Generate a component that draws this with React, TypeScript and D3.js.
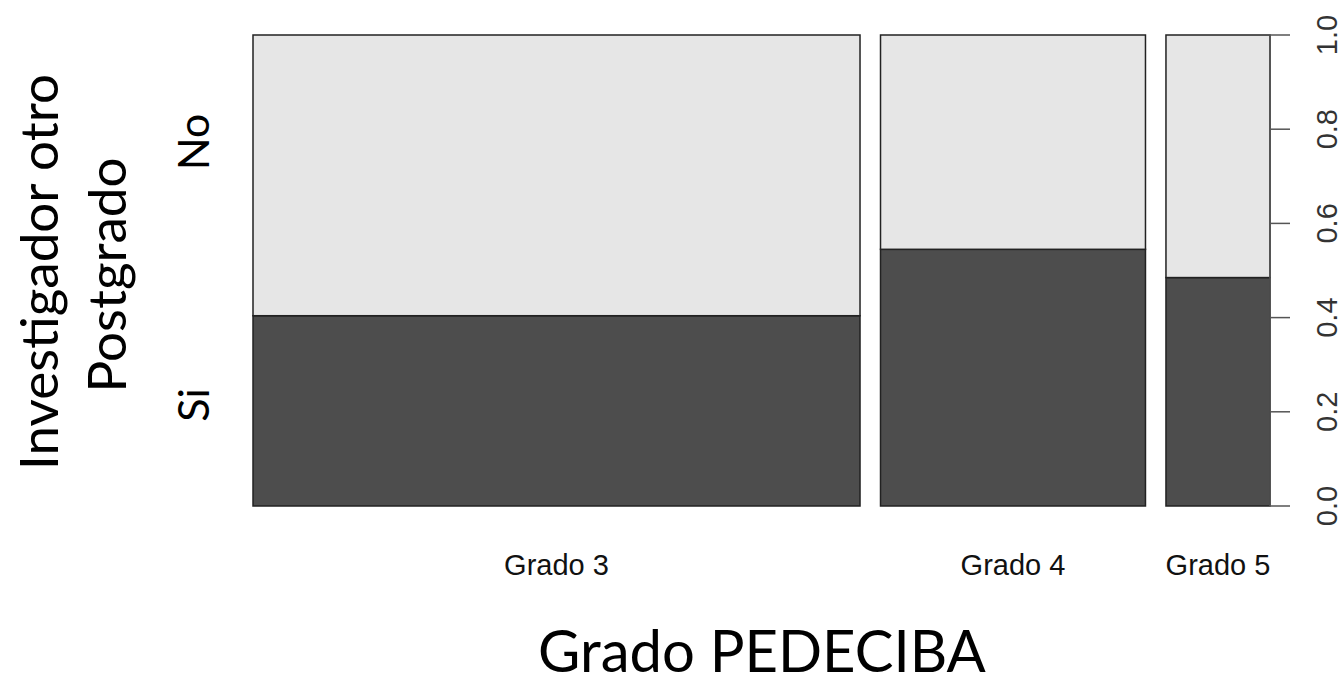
import React from "react";
import * as d3 from "d3";

const categories = ["Grado 3", "Grado 4", "Grado 5"];
const widthShares = [0.622, 0.2715, 0.1066]; // share of observations per category
const siShares = [0.404, 0.545, 0.485]; // proportion "Si" in each category
const yTicks = [0, 0.2, 0.4, 0.6, 0.8, 1.0];
const yLevels = ["Si", "No"];
const yLevelPos = [405, 142]; // label centres placed as in the reference

const W = 1344;
const H = 689;
const left = 253;
const right = 1270;
const top = 35;
const bottom = 506;
const gap = 0.021;

export default function App() {
  const total = d3.sum(widthShares);
  const x = d3
    .scaleLinear()
    .domain([0, total + gap * (categories.length - 1)])
    .range([left, right]);
  const y = d3.scaleLinear().domain([0, 1]).range([bottom, top]);

  let cum = 0;
  const bars = categories.map((c, i) => {
    const x0 = cum + i * gap;
    cum += widthShares[i];
    return { c, x0, x1: x0 + widthShares[i], si: siShares[i] };
  });

  const axisFont = "'Liberation Sans', Arial, Helvetica, sans-serif";
  const labelFont = "Lato, 'Open Sans', sans-serif";

  return (
    <div style={{ position: "absolute", left: 0, top: 0 }}>
      <svg width={W} height={H} style={{ display: "block", background: "#fff" }}>
        {bars.map((b) => (
          <g key={b.c}>
            <rect
              x={x(b.x0)}
              y={y(b.si)}
              width={x(b.x1) - x(b.x0)}
              height={y(0) - y(b.si)}
              fill="#4d4d4d"
              stroke="#222"
              strokeWidth={1.5}
            />
            <rect
              x={x(b.x0)}
              y={y(1)}
              width={x(b.x1) - x(b.x0)}
              height={y(b.si) - y(1)}
              fill="#e6e6e6"
              stroke="#222"
              strokeWidth={1.5}
            />
            <text
              x={(x(b.x0) + x(b.x1)) / 2}
              y={575}
              textAnchor="middle"
              fontFamily={axisFont}
              fontSize={29}
              fill="#111"
            >
              {b.c}
            </text>
          </g>
        ))}
        {/* right axis */}
        <line x1={right} x2={right} y1={y(0)} y2={y(1)} stroke="#555" strokeWidth={1.5} />
        {yTicks.map((t) => (
          <g key={t}>
            <line x1={right} x2={right + 20} y1={y(t)} y2={y(t)} stroke="#555" strokeWidth={1.5} />
            <text
              transform={`translate(${1327},${y(t)}) rotate(-90)`}
              textAnchor="middle"
              dominantBaseline="central"
              fontFamily={axisFont}
              fontSize={29}
              fill="#333"
            >
              {t.toFixed(1)}
            </text>
          </g>
        ))}
        {/* category labels on left */}
        {yLevels.map((lv, i) => (
          <text
            key={lv}
            transform={`translate(${192},${yLevelPos[i]}) rotate(-90)`}
            textAnchor="middle"
            dominantBaseline="central"
            fontFamily={labelFont}
            fontSize={43}
            fill="#000"
          >
            {lv}
          </text>
        ))}
        <text
          transform={`translate(${37},${272}) rotate(-90)`}
          textAnchor="middle"
          dominantBaseline="central"
          fontFamily={labelFont}
          fontSize={53}
          fill="#000"
        >
          Investigador otro
        </text>
        <text
          transform={`translate(${105},${275}) rotate(-90)`}
          textAnchor="middle"
          dominantBaseline="central"
          fontFamily={labelFont}
          fontSize={53}
          fill="#000"
        >
          Postgrado
        </text>
        <text
          x={762}
          y={672}
          textAnchor="middle"
          fontFamily={labelFont}
          fontSize={58}
          fill="#000"
        >
          Grado PEDECIBA
        </text>
      </svg>
    </div>
  );
}
